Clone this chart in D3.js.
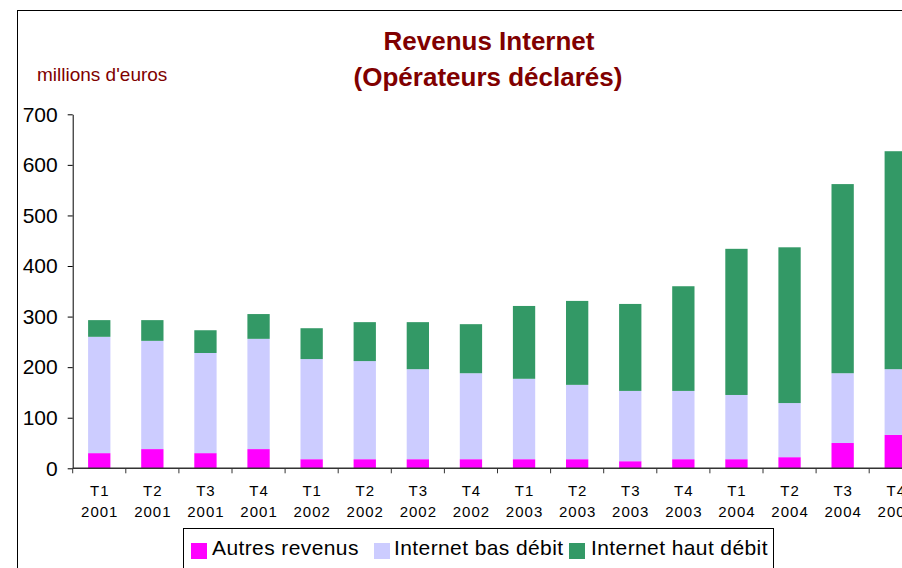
<!DOCTYPE html>
<html>
<head>
<meta charset="utf-8">
<script src="https://cdn.jsdelivr.net/npm/d3@7"></script>
<style>
  html, body { margin: 0; padding: 0; background: #fff; overflow: hidden; }
  svg { display: block; font-family: "Liberation Sans", Arial, sans-serif; }
</style>
</head>
<body>
<svg id="chart" width="902" height="568"></svg>
<script>
// ---- Data ----
const quarters = ["T1","T2","T3","T4","T1","T2","T3","T4","T1","T2","T3","T4","T1","T2","T3","T4"];
const years    = ["2001","2001","2001","2001","2002","2002","2002","2002","2003","2003","2003","2003","2004","2004","2004","2004"];
const autresRevenus     = [30, 38, 30, 38, 18, 18, 18, 18, 18, 18, 14, 18, 18, 22, 50, 66];
const internetBasDebit  = [230, 214, 198, 218, 198, 194, 178, 170, 159, 147, 139, 135, 127, 107, 138, 130];
const internetHautDebit = [33, 41, 45, 49, 61, 77, 93, 97, 144, 166, 172, 207, 289, 308, 374, 431];
const seriesNames = ["Autres revenus", "Internet bas débit", "Internet haut débit"];
const seriesColors = ["#FF00FF", "#CCCCFF", "#339966"];
const yTicks = [0, 100, 200, 300, 400, 500, 600, 700];

// ---- Build table ----
const keys = ["autres", "bas", "haut"];
const table = quarters.map((q, i) => ({
  id: i, q: q, y: years[i],
  autres: autresRevenus[i], bas: internetBasDebit[i], haut: internetHautDebit[i]
}));

const svg = d3.select("#chart");

// Outer chart border (clipped by the viewport on right/bottom)
svg.append("rect")
  .attr("x", 17.5).attr("y", 10.5)
  .attr("width", 1000).attr("height", 1000)
  .attr("fill", "none").attr("stroke", "#000").attr("stroke-width", 1);

const x0 = 72.7, plotStep = 53.1;
const x = d3.scaleBand()
  .domain(table.map(d => d.id))
  .range([x0, x0 + plotStep * table.length])
  .paddingInner(0.58)
  .paddingOuter(0.29);

const y = d3.scaleLinear().domain([0, 700]).range([468.3, 114.3]);

const stack = d3.stack().keys(keys);
const stacked = stack(table);

const g = svg.append("g");
g.selectAll("g.series")
  .data(stacked)
  .join("g")
  .attr("class", "series")
  .attr("fill", (d, i) => seriesColors[i])
  .selectAll("rect")
  .data(d => d)
  .join("rect")
  .attr("x", d => x(d.data.id))
  .attr("width", x.bandwidth())
  .attr("y", d => y(d[1]))
  .attr("height", d => y(d[0]) - y(d[1]));

// Y axis
const yAxis = d3.axisLeft(y).tickValues(yTicks).tickSize(5).tickPadding(10).tickSizeOuter(0);
const yg = svg.append("g").attr("transform", `translate(${x0},0)`).call(yAxis);
yg.select(".domain").attr("stroke", "#000");
yg.selectAll(".tick line").attr("stroke", "#000");
yg.selectAll(".tick text")
  .attr("font-size", 21).attr("fill", "#000")
  .attr("font-family", "Liberation Sans, Arial, sans-serif");

// X axis line and category boundary ticks
const xEnd = x0 + plotStep * table.length;
svg.append("line")
  .attr("x1", x0).attr("x2", xEnd)
  .attr("y1", y(0)).attr("y2", y(0))
  .attr("stroke", "#333").attr("stroke-width", 1.5);
const boundaries = d3.range(table.length + 1).map(i => x0 + i * x.step());
svg.selectAll("line.xtick")
  .data(boundaries)
  .join("line")
  .attr("class", "xtick")
  .attr("x1", d => d).attr("x2", d => d)
  .attr("y1", y(0)).attr("y2", y(0) + 5)
  .attr("stroke", "#333");

// X labels
const xl = svg.append("g");
table.forEach(d => {
  const cx = x(d.id) + x.bandwidth() / 2;
  const t = xl.append("text")
    .attr("text-anchor", "middle")
    .attr("font-size", 15)
    .attr("letter-spacing", 1)
    .attr("fill", "#000");
  t.append("tspan").attr("x", cx + 0.5).attr("y", 495.5).text(d.q);
  t.append("tspan").attr("x", cx + 0.5).attr("y", 516.5).text(d.y);
});

// Title
svg.append("text")
  .attr("x", 489).attr("y", 50)
  .attr("text-anchor", "middle")
  .attr("font-size", 26).attr("font-weight", "bold")
  .attr("fill", "#800000")
  .text("Revenus Internet");
svg.append("text")
  .attr("x", 488).attr("y", 86)
  .attr("text-anchor", "middle")
  .attr("font-size", 26).attr("font-weight", "bold")
  .attr("fill", "#800000")
  .text("(Opérateurs déclarés)");

// Unit label
svg.append("text")
  .attr("x", 37).attr("y", 81)
  .attr("font-size", 19)
  .attr("fill", "#800000")
  .text("millions d'euros");

// Legend
svg.append("rect")
  .attr("x", 183.5).attr("y", 528.5)
  .attr("width", 590).attr("height", 100)
  .attr("fill", "#fff").attr("stroke", "#000");
const legendSwatchX = [191, 374, 569];
const legendTextX = [212, 394, 591];
seriesNames.forEach((name, i) => {
  svg.append("rect")
    .attr("x", legendSwatchX[i]).attr("y", 543)
    .attr("width", 16).attr("height", 16)
    .attr("fill", seriesColors[i]);
  svg.append("text")
    .attr("x", legendTextX[i]).attr("y", 555)
    .attr("font-size", 21)
    .attr("letter-spacing", 0.4)
    .attr("fill", "#000")
    .text(name);
});
</script>
</body>
</html>
